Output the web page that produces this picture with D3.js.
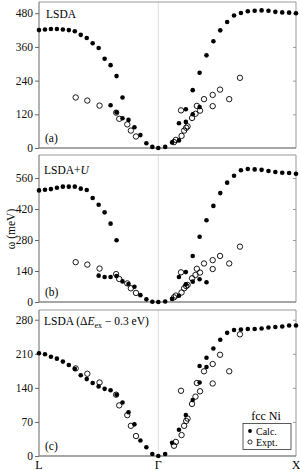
<!DOCTYPE html>
<html><head><meta charset="utf-8">
<script src="https://cdn.jsdelivr.net/npm/d3@7"></script>
<style>
html,body{margin:0;padding:0;background:#fff;}
svg{display:block;font-family:"Liberation Serif","Times New Roman",serif;}
svg text{font-family:"Liberation Serif","Times New Roman",serif;}
</style></head>
<body>
<svg id="chart" width="300" height="471"></svg>
<script>
// path coordinate: -20 = L, 0 = Γ, 20 = X (20 steps per segment)
const pathTicks = [-20, 0, 20];
const pathLabels = ["L", "Γ", "X"];

const calcA = [[-20,420],[-19,422],[-18,424],[-17,424],[-16,422],[-15,420],[-14,416],[-13,403],[-12,392],[-11,373],[-10,356],[-9,318],[-8,295],[-7,256],[-6,180],
[-8,152],[-7,127],[-6,106],[-5,100],[-4,74],[-3,46],[-2,17],[-1,4],[0,0],
[1,4],[2,20],[3,27],[3,88],[4,93],[4,138],[5,120],[5,206],[6,146],[6,268],[7,330],[8,380],[9,419],[10,449],[11,472],[12,481],[13,487],[14,489],[15,490],[16,489],[17,485],[18,483],[19,482],[20,480]];

const calcB = [[-20,504],[-19,507],[-18,510],[-17,516],[-16,521],[-15,521],[-14,521],[-13,512],[-12,506],[-11,470],[-10,439],[-9,405],[-8,354],[-7,279],
[-10,119],[-9,113],[-8,113],[-7,117],[-6,93],[-5,81],[-4,69],[-3,31],[-2,12],[-1,1],[0,0],
[1,2],[2,14],[3,28],[3,113],[4,80],[4,135],[5,92],[5,208],[6,103],[6,295],[7,89],[7,369],[8,434],[9,492],[10,539],[11,570],[12,595],[13,601],[14,599],[15,597],[16,592],[17,587],[18,584],[19,583],[20,579]];

const calcC = [[-20,211],[-19,209],[-18,204],[-17,200],[-16,194],[-15,187],[-14,179],[-13,166],[-12,158],[-11,150],[-10,143],[-9,138],[-8,135],[-7,126],[-6,110],[-5,90],[-4,65],[-3,32],[-2,18],[-1,4],[0,0],
[1,4],[2,27],[3,54],[4,84],[5,115],[6,151],[6,185],[7,183],[7,202],[8,221],[9,239],[10,253],[11,259],[12,260],[13,261],[14,261],[15,262],[16,264],[17,265],[18,266],[19,268],[20,268]];

const expt = [[-13.85,180],[-11.9,169],[-9.85,151],[-7.07,126],[-6.55,104],[-5.2,84],[-4.6,62],[-3.74,41],
[2.28,21],[2.55,29],[3.38,43],[3.75,62],[4.05,72],[4.25,77],[3.3,134],[4.9,107],[5.4,122],[5.6,150],[6.06,133],[6.64,174],[7.9,149],[7.9,189],[8.97,208],[10.3,174],[11.86,250]];

const ticksA = [0,120,240,360,480];
const ticksB = [0,140,280,420,560];
const ticksC = [0,70,140,210,280];

const panels = [
  {calc: calcA, ticks: ticksA, ymax: 520, top: 2, bottom: 148, tag: "(a)"},
  {calc: calcB, ticks: ticksB, ymax: 664, top: 155, bottom: 302, tag: "(b)"},
  {calc: calcC, ticks: ticksC, ymax: 300, top: 310, bottom: 456, tag: "(c)"}
];

const svg = d3.select("#chart");
const x = d3.scaleLinear().domain([-20, 0, 20]).range([39, 158.3, 296]);
const left = 39, right = 296;

panels.forEach((p, i) => {
  const y = d3.scaleLinear().domain([0, p.ymax]).range([p.bottom, p.top]);
  const g = svg.append("g");
  g.append("line").attr("x1", x(0)).attr("x2", x(0)).attr("y1", p.top).attr("y2", p.bottom)
    .attr("stroke", "#dedede").attr("stroke-width", 1);
  g.append("path").attr("d", `M${left},${p.top}H${right}V${p.bottom}`)
    .attr("fill", "none").attr("stroke", "#999").attr("stroke-width", 1);
  const ra = g.append("g").attr("transform", `translate(${right},0)`)
    .call(d3.axisLeft(y).tickValues(p.ticks.filter(t => t > 0)).tickSize(3).tickFormat(""));
  ra.select(".domain").remove();
  ra.selectAll("line").attr("stroke", "#999");
  const la = g.append("g").attr("transform", `translate(${left},0)`)
    .attr("font-family", "Liberation Serif")
    .call(d3.axisLeft(y).tickValues(p.ticks).tickSize(4).tickPadding(2));
  la.attr("font-family", "Liberation Serif");
  la.select(".domain").attr("stroke", "#666").attr("d", `M0,${p.top}V${p.bottom}`);
  la.selectAll("line").attr("stroke", "#666");
  la.selectAll("text").attr("font-size", 11.5).attr("fill", "#111");
  g.append("line").attr("x1", left).attr("x2", right).attr("y1", p.bottom).attr("y2", p.bottom)
    .attr("stroke", "#888").attr("stroke-width", 1.6);

  g.selectAll("circle.e").data(expt).enter().append("circle")
    .attr("cx", d => x(d[0])).attr("cy", d => y(d[1])).attr("r", 2.7)
    .attr("fill", "none").attr("stroke", "#000").attr("stroke-width", 0.9);
  g.selectAll("circle.c").data(p.calc).enter().append("circle")
    .attr("cx", d => x(d[0])).attr("cy", d => y(d[1])).attr("r", 2.3)
    .attr("fill", "#000");

  g.append("text").attr("x", 45).attr("y", p.bottom - 6).attr("font-size", 11.5).text(p.tag);
});

svg.append("text").attr("x", 46).attr("y", 18).attr("font-size", 11.5).text("LSDA");
const tb = svg.append("text").attr("x", 44).attr("y", 174).attr("font-size", 11.5);
tb.append("tspan").text("LSDA+");
tb.append("tspan").attr("font-style", "italic").text("U");
const tc = svg.append("text").attr("x", 44).attr("y", 325).attr("font-size", 11.5);
tc.append("tspan").text("LSDA (Δ");
tc.append("tspan").attr("font-style", "italic").text("E");
tc.append("tspan").attr("font-size", 8).attr("dy", 2.5).text("ex");
tc.append("tspan").attr("dy", -2.5).text(" − 0.3 eV)");

svg.append("text").attr("transform", "translate(15,229) rotate(-90)").attr("text-anchor", "middle")
  .attr("font-size", 11.5).text("ω (meV)");

svg.selectAll("text.pl").data(pathTicks).enter().append("text")
  .attr("x", d => x(d)).attr("y", 469).attr("text-anchor", "middle").attr("font-size", 12)
  .text((d, i) => pathLabels[i]);

// legend
svg.append("text").attr("x", 266).attr("y", 420).attr("text-anchor", "middle").attr("font-size", 12).text("fcc Ni");
svg.append("rect").attr("x", 243).attr("y", 423.5).attr("width", 48).attr("height", 26)
  .attr("fill", "#fff").attr("stroke", "#333").attr("stroke-width", 0.8);
svg.append("circle").attr("cx", 250).attr("cy", 431).attr("r", 1.9).attr("fill", "#000");
svg.append("circle").attr("cx", 250).attr("cy", 442).attr("r", 2.1).attr("fill", "none").attr("stroke", "#000").attr("stroke-width", 0.8);
svg.append("text").attr("x", 256).attr("y", 434.5).attr("font-size", 10).text("Calc.");
svg.append("text").attr("x", 256).attr("y", 445.5).attr("font-size", 10).text("Expt.");
</script>
</body></html>
